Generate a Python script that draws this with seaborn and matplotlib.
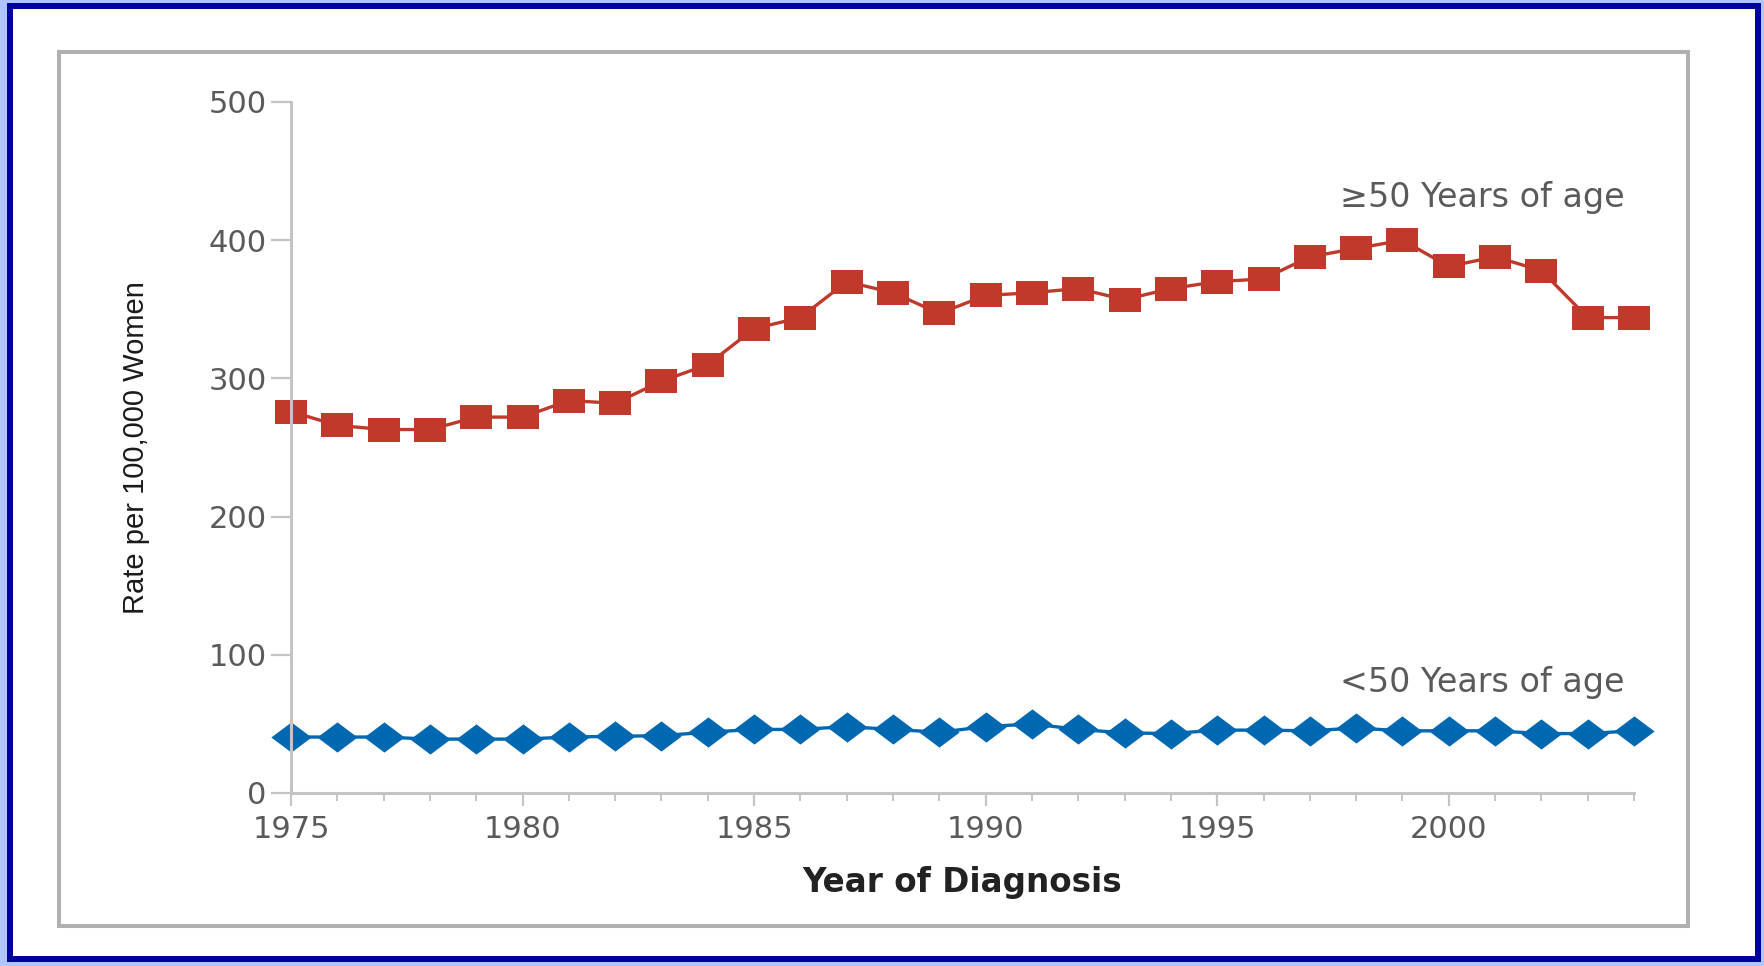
import matplotlib
matplotlib.use("Agg")
import matplotlib.pyplot as plt
import seaborn as sns
import pandas as pd
from matplotlib.patches import Rectangle
from matplotlib.ticker import MultipleLocator

# values
years = list(range(1975, 2005))
rate_50_plus = [276, 266, 263, 263, 272, 272, 284, 282, 298, 310,
                336, 344, 370, 362, 347, 360, 362, 365, 357, 365,
                370, 372, 388, 394, 400, 381, 388, 378, 344, 344]
rate_under_50 = [40.5, 40.5, 40.5, 39, 39, 39, 40.5, 41, 41.5, 44,
                 46, 46, 48, 46, 44, 48, 50, 46, 43.5, 43,
                 45.5, 45.5, 45, 47, 45, 45, 45, 43, 43, 45]
y_ticks = [0, 100, 200, 300, 400, 500]
x_ticks = [1975, 1980, 1985, 1990, 1995, 2000]

W, H = 1765, 966
RED = "#c0392b"
BLUE = "#0068b0"
GREY_TXT = "#5a5a5a"
SPINE = "#c4c4c4"


def fx(px):
    return px / W


def fy(py):
    return 1 - py / H


def main():
    sns.set_style("white")
    plt.rcParams["font.family"] = ["DejaVu Sans"]

    fig = plt.figure(figsize=(W / 100, H / 100), dpi=100, facecolor="#b0c4ff")

    # blue outer frame and grey inner box
    fig.add_artist(Rectangle((fx(10), fy(959)), fx(1758) - fx(10), fy(6) - fy(959),
                             transform=fig.transFigure, facecolor="white",
                             edgecolor="#0000a0", linewidth=4.3, zorder=-3))
    fig.add_artist(Rectangle((fx(59), fy(926)), fx(1688) - fx(59), fy(52) - fy(926),
                             transform=fig.transFigure, facecolor="white",
                             edgecolor="#b0b0b0", linewidth=2.9, zorder=-2))

    ax = fig.add_axes([fx(291), fy(793), fx(1634) - fx(291), fy(102) - fy(793)])
    ax.set_facecolor("none")

    df = pd.DataFrame({"year": years, "over50": rate_50_plus, "under50": rate_under_50})

    square = [(-1, -0.78), (1, -0.78), (1, 0.78), (-1, 0.78), (-1, -0.78)]
    diamond = [(-1, 0), (0, 0.75), (1, 0), (0, -0.75), (-1, 0)]

    sns.lineplot(data=df, x="year", y="over50", ax=ax, color=RED, linewidth=2.4,
                 marker=square, markersize=22.5, markeredgewidth=0, clip_on=False)
    sns.lineplot(data=df, x="year", y="under50", ax=ax, color=BLUE, linewidth=2.4,
                 marker=diamond, markersize=29, markeredgewidth=0, clip_on=False)

    ax.set_xlim(1975, 2004)
    ax.set_ylim(0, 500)
    ax.set_xticks(x_ticks)
    ax.xaxis.set_minor_locator(MultipleLocator(1))
    ax.set_yticks(y_ticks)

    sns.despine(ax=ax)
    for side in ["left", "bottom"]:
        ax.spines[side].set_color(SPINE)
        ax.spines[side].set_linewidth(2.2)

    ax.tick_params(axis="y", which="major", length=14.4, width=1.6, color=SPINE,
                   labelsize=22, labelcolor=GREY_TXT, pad=3, left=True)
    ax.tick_params(axis="x", which="major", length=9.4, width=1.6, color=SPINE,
                   labelsize=22, labelcolor=GREY_TXT, pad=6.5, bottom=True)
    ax.tick_params(axis="x", which="minor", length=5.8, width=1.4, color=SPINE,
                   bottom=True)

    ax.set_xlabel("Year of Diagnosis", fontsize=23.5, fontweight="bold", color="#222222")
    ax.xaxis.set_label_coords(0.5, -0.105)
    ax.set_ylabel("Rate per 100,000 Women", fontsize=21, color="#1a1a1a",
                  family=["Liberation Sans", "DejaVu Sans"])
    ax.yaxis.set_label_coords((150 - 291) / (1634 - 291), 0.5)

    ax.text(2003.8, 431, "\u226550 Years of age", fontsize=24, color=GREY_TXT,
            ha="right", va="center")
    ax.text(2003.8, 79.6, "<50 Years of age", fontsize=24, color=GREY_TXT,
            ha="right", va="center")

    fig.savefig("out.png", dpi=100, facecolor=fig.get_facecolor())


if __name__ == "__main__":
    main()
